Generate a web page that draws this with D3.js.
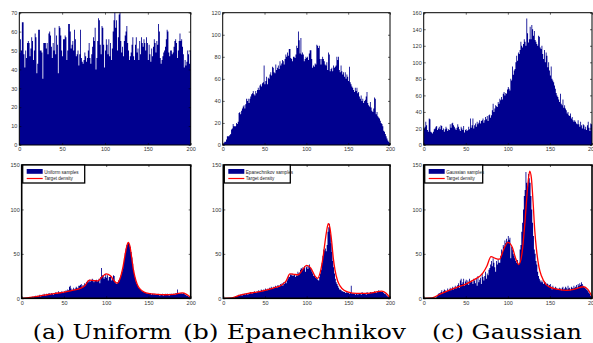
<!DOCTYPE html>
<html>
<head>
<meta charset="utf-8">
<script src="https://cdn.jsdelivr.net/npm/d3@7"></script>
<style>
  body { margin: 0; background: #fff; }
  svg { display: block; }
</style>
</head>
<body>
<div id="chart"></div>
<script>
// ---- data (200 bins per histogram) ----
const xTicks = [0, 50, 100, 150, 200];
const uniformTicks = [0, 10, 20, 30, 40, 50, 60, 70];
const epanTicks = [0, 20, 40, 60, 80, 100, 120];
const gaussTicks = [0, 20, 40, 60, 80, 100, 120, 140, 160];
const sampleTicks = [0, 50, 100, 150];

const captions = ["(a) Uniform", "(b) Epanechnikov", "(c) Gaussian"];
const sampleLabels = ["Uniform samples", "Epanechnikov samples", "Gaussian samples"];
const densityLabel = "Target density";

// top row: proposal histograms
const uniformHist = [
  49, 56, 50, 65, 65, 48, 41, 50, 46, 54, 55, 54, 47, 51, 57, 55, 45, 50, 59, 57,
  38, 43, 61, 61, 50, 50, 49, 35, 54, 54, 54, 51, 54, 48, 59, 60, 58, 52, 46, 54,
  50, 62, 48, 58, 53, 38, 63, 62, 58, 50, 47, 56, 56, 58, 57, 45, 50, 64, 64, 60,
  51, 53, 55, 50, 61, 56, 47, 48, 50, 42, 48, 61, 46, 44, 43, 45, 49, 47, 44, 46,
  50, 54, 46, 43, 48, 52, 57, 55, 62, 40, 46, 55, 67, 66, 53, 48, 63, 62, 53, 41,
  50, 56, 53, 48, 56, 47, 54, 45, 51, 60, 66, 70, 62, 66, 50, 57, 69, 70, 55, 49,
  52, 47, 55, 58, 60, 63, 54, 50, 45, 47, 49, 53, 57, 47, 45, 53, 57, 49, 51, 45,
  55, 48, 57, 54, 52, 56, 54, 50, 57, 54, 45, 53, 48, 44, 51, 47, 52, 56, 54, 49,
  55, 53, 64, 60, 46, 43, 45, 47, 49, 50, 52, 56, 61, 60, 49, 47, 50, 50, 48, 49,
  52, 55, 56, 54, 46, 50, 55, 59, 55, 56, 52, 48, 41, 45, 42, 44, 50, 48, 43, 50
];
const epanHist = [
  1, 2, 3, 3, 5, 8, 8, 8, 9, 10, 14, 15, 19, 17, 17, 17, 20, 19, 21, 29,
  30, 28, 31, 33, 35, 36, 33, 37, 42, 40, 42, 38, 42, 44, 46, 47, 49, 46, 45, 49,
  47, 50, 52, 50, 54, 55, 53, 56, 57, 72, 55, 58, 62, 55, 61, 60, 64, 66, 63, 71,
  70, 66, 65, 73, 68, 70, 72, 69, 76, 72, 74, 77, 76, 73, 78, 82, 80, 84, 81, 87,
  87, 79, 78, 76, 80, 80, 79, 82, 90, 88, 103, 95, 83, 97, 82, 84, 82, 76, 78, 80,
  79, 80, 77, 83, 86, 86, 78, 70, 72, 71, 74, 73, 91, 90, 88, 90, 78, 73, 78, 80,
  78, 76, 73, 72, 75, 68, 84, 82, 67, 69, 70, 67, 72, 70, 71, 72, 80, 77, 80, 68,
  66, 72, 67, 64, 66, 62, 66, 60, 64, 62, 58, 71, 57, 55, 53, 52, 50, 48, 52, 49,
  52, 47, 48, 44, 42, 45, 40, 42, 38, 40, 41, 44, 48, 38, 36, 35, 39, 34, 31, 30,
  33, 43, 42, 28, 30, 26, 25, 24, 22, 20, 19, 17, 13, 12, 10, 8, 6, 4, 3, 2
];
const gaussHist = [
  20, 22, 28, 24, 18, 16, 32, 31, 16, 15, 14, 16, 19, 20, 22, 23, 18, 20, 22, 19,
  24, 23, 18, 20, 16, 19, 22, 20, 17, 19, 18, 25, 21, 26, 27, 24, 22, 20, 18, 21,
  25, 22, 19, 17, 22, 20, 18, 23, 15, 18, 19, 17, 18, 22, 19, 32, 21, 24, 32, 20,
  24, 26, 22, 28, 25, 27, 30, 26, 29, 30, 32, 27, 30, 34, 31, 35, 29, 36, 37, 33,
  36, 42, 50, 40, 44, 48, 47, 46, 52, 50, 56, 54, 58, 55, 62, 64, 60, 63, 62, 67,
  70, 68, 66, 80, 78, 95, 85, 90, 92, 100, 108, 102, 112, 110, 115, 125, 120, 118, 122, 128,
  125, 120, 153, 135, 124, 128, 143, 128, 145, 140, 132, 138, 127, 125, 122, 120, 132, 131, 118, 116,
  120, 110, 104, 115, 100, 112, 108, 94, 100, 90, 84, 95, 80, 78, 76, 72, 68, 63, 60, 58,
  55, 52, 62, 50, 48, 55, 45, 48, 44, 42, 38, 40, 36, 35, 38, 32, 34, 30, 28, 30,
  28, 26, 25, 30, 25, 22, 28, 24, 20, 25, 24, 19, 22, 18, 24, 28, 21, 17, 26, 25
];

// bottom row: weighted samples
const uniformSamples = [
  0, 0, 0, 0, 0, 0, 0, 0, 0, 0, 1, 1, 2, 1, 2, 2, 3, 2, 3, 2,
  3, 4, 2, 3, 4, 3, 5, 4, 3, 5, 4, 5, 6, 4, 5, 6, 5, 4, 6, 5,
  7, 6, 5, 8, 6, 7, 6, 8, 7, 6, 8, 7, 9, 8, 10, 9, 13, 14, 11, 9,
  10, 12, 10, 11, 13, 12, 11, 14, 14, 15, 16, 13, 15, 14, 17, 16, 18, 19, 20, 18,
  21, 19, 20, 22, 21, 18, 20, 20, 21, 19, 20, 22, 17, 24, 34, 26, 25, 22, 24, 27,
  23, 26, 20, 24, 24, 25, 20, 22, 26, 25, 18, 17, 16, 18, 20, 21, 23, 26, 30, 33,
  38, 45, 51, 56, 60, 62, 63, 61, 58, 52, 46, 39, 32, 27, 23, 19, 16, 14, 12, 11,
  10, 9, 8, 8, 7, 7, 6, 6, 5, 6, 5, 5, 6, 4, 5, 5, 4, 5, 4, 4,
  4, 5, 4, 3, 4, 4, 5, 3, 4, 4, 5, 4, 5, 4, 3, 5, 4, 5, 4, 5,
  5, 4, 6, 5, 10, 6, 5, 6, 5, 6, 5, 6, 5, 4, 4, 3, 3, 2, 2, 1
];
const epanSamples = [
  0, 0, 0, 0, 0, 0, 0, 0, 0, 0, 0, 0, 1, 1, 2, 2, 3, 3, 4, 3,
  4, 4, 3, 5, 4, 5, 4, 6, 5, 4, 6, 5, 7, 6, 5, 7, 6, 8, 7, 6,
  8, 7, 9, 8, 7, 10, 9, 8, 10, 9, 11, 10, 9, 11, 10, 12, 11, 13, 12, 11,
  13, 12, 14, 13, 12, 15, 14, 13, 16, 15, 17, 14, 18, 16, 19, 17, 20, 22, 25, 24,
  27, 26, 28, 25, 26, 27, 24, 26, 25, 30, 28, 29, 32, 34, 33, 35, 34, 36, 30, 35,
  37, 33, 36, 38, 34, 32, 30, 28, 25, 26, 23, 24, 22, 21, 20, 24, 28, 32, 40, 48,
  55, 54, 56, 53, 60, 75, 80, 84, 72, 62, 52, 42, 35, 28, 22, 18, 16, 14, 12, 10,
  10, 9, 8, 8, 7, 7, 6, 8, 6, 7, 6, 5, 6, 14, 5, 6, 5, 5, 4, 5,
  5, 4, 5, 6, 5, 4, 7, 5, 6, 5, 6, 4, 7, 6, 5, 6, 7, 6, 7, 6,
  7, 8, 7, 6, 8, 7, 9, 8, 8, 7, 8, 7, 6, 5, 5, 4, 3, 2, 2, 1
];
const gaussSamples = [
  0, 0, 0, 0, 0, 0, 0, 0, 0, 0, 0, 0, 0, 0, 0, 2, 4, 5, 6, 5,
  7, 9, 6, 8, 10, 9, 7, 8, 11, 9, 10, 12, 9, 11, 13, 10, 12, 14, 11, 13,
  15, 17, 12, 20, 22, 16, 18, 22, 14, 19, 21, 17, 20, 15, 22, 18, 20, 19, 16, 22,
  20, 17, 22, 14, 25, 18, 21, 23, 16, 28, 24, 20, 25, 30, 22, 28, 26, 32, 34, 38,
  42, 36, 45, 40, 35, 30, 42, 38, 44, 40, 40, 48, 55, 52, 60, 58, 65, 62, 67, 64,
  70, 66, 68, 45, 58, 55, 50, 48, 45, 42, 40, 43, 38, 40, 55, 60, 75, 85, 100, 115,
  122, 142, 130, 125, 140, 135, 130, 115, 100, 85, 70, 55, 50, 42, 38, 30, 25, 22, 20, 18,
  20, 18, 16, 19, 18, 15, 17, 16, 14, 15, 16, 13, 10, 14, 12, 11, 13, 12, 10, 11,
  10, 12, 11, 9, 12, 13, 10, 11, 13, 12, 10, 14, 11, 12, 9, 13, 12, 11, 14, 12,
  13, 15, 12, 16, 14, 17, 15, 18, 16, 14, 13, 12, 11, 10, 9, 8, 6, 5, 3, 2
];

// target density curves (red), sampled at densityX
const densityX = [0, 10, 20, 30, 40, 50, 60, 70, 75, 80, 85, 90, 95, 100, 105, 110, 113, 117,
  120, 122, 124, 126, 128, 130, 132, 134, 137, 140, 145, 150, 160, 170, 180, 190, 195, 200];
const uniformDensity = [0, 1, 2.5, 4, 5.5, 7, 9, 11.5, 14.5, 20.5, 20, 19.5, 24, 27.5, 25.5, 19, 17, 24,
  36, 47, 57, 63, 59, 47, 33, 24, 15, 10.5, 7, 5.5, 4.5, 4, 4.5, 6, 4.5, 1];
const epanDensity = [0, 0.5, 3.5, 5.5, 7, 9, 11.5, 15, 19, 27.5, 27, 26.5, 32, 37, 34, 25, 22.5, 32,
  48, 63, 76, 84, 79, 64, 45, 32, 20, 14, 9, 7, 5.5, 5.5, 6.5, 8, 6, 0.5];
const gaussDensity = [0, 0.5, 5, 9, 12.5, 16, 21, 28, 36, 47, 45, 44, 55, 63, 58, 43, 38, 52,
  82, 107, 130, 143, 135, 108, 76, 55, 35, 25, 16, 12.5, 10, 9, 10.5, 13, 10, 2];

// ---- drawing ----
let width = 593, height = 343;
let barColor = "#00008f";
let lineColor = "#ff0000";
let tickFont = "'Liberation Sans', Arial, sans-serif";

let svg = d3.select("#chart").append("svg")
  .attr("width", width)
  .attr("height", height)
  .style("background", "#fff");

let panels = [
  { left: 19.3, right: 190.7, top: 12.7, bottom: 145, counts: uniformHist, yMax: 70, yTicks: uniformTicks, frame: 1 },
  { left: 222.7, right: 390, top: 12.7, bottom: 145, counts: epanHist, yMax: 120, yTicks: epanTicks, frame: 1 },
  { left: 423.7, right: 592, top: 12.7, bottom: 145, counts: gaussHist, yMax: 160, yTicks: gaussTicks, frame: 1 },
  { left: 21.7, right: 190.7, top: 165, bottom: 298.3, counts: uniformSamples, yMax: 150, yTicks: sampleTicks, frame: 1.6,
    density: uniformDensity, label: sampleLabels[0], legendW: 62 },
  { left: 223.3, right: 390, top: 165, bottom: 298.3, counts: epanSamples, yMax: 150, yTicks: sampleTicks, frame: 1.6,
    density: epanDensity, label: sampleLabels[1], legendW: 66 },
  { left: 423.7, right: 592, top: 165, bottom: 298.3, counts: gaussSamples, yMax: 150, yTicks: sampleTicks, frame: 1.6,
    density: gaussDensity, label: sampleLabels[2], legendW: 58 }
];

function styleAxis(g) {
  g.attr("font-size", 5.5).attr("font-family", tickFont);
  g.select(".domain").remove();
  g.selectAll("text").attr("fill", "#333");
  g.selectAll("line").attr("stroke", "#000").attr("stroke-width", 0.6);
}

function drawPanel(p) {
  let x = d3.scaleLinear().domain([0, 200]).range([p.left, p.right]);
  let y = d3.scaleLinear().domain([0, p.yMax]).range([p.bottom, p.top]);
  let g = svg.append("g");

  // histogram bars as one stepped shape (bins are thinner than a pixel,
  // separate rects leave light anti-alias seams)
  let steps = p.counts.concat([p.counts[p.counts.length - 1]]);
  let bars = d3.area()
    .x((d, i) => x(i))
    .y0(y(0))
    .y1(d => y(d))
    .curve(d3.curveStepAfter);
  g.append("path")
    .datum(steps)
    .attr("d", bars)
    .attr("fill", barColor);

  // density curve
  if (p.density) {
    let line = d3.line()
      .x((d, i) => x(densityX[i]))
      .y(d => y(d))
      .curve(d3.curveMonotoneX);
    g.append("path")
      .datum(p.density)
      .attr("d", line)
      .attr("fill", "none")
      .attr("stroke", lineColor)
      .attr("stroke-width", 1.3);
  }

  // axes, inward ticks on all four sides (matlab box)
  g.append("g")
    .attr("transform", `translate(0,${p.bottom})`)
    .call(d3.axisBottom(x).tickValues(xTicks).tickSizeInner(-2).tickSizeOuter(0).tickPadding(2.5))
    .call(styleAxis);
  g.append("g")
    .attr("transform", `translate(0,${p.top})`)
    .call(d3.axisTop(x).tickValues(xTicks).tickSizeInner(-2).tickSizeOuter(0).tickFormat(""))
    .call(styleAxis);
  g.append("g")
    .attr("transform", `translate(${p.left},0)`)
    .call(d3.axisLeft(y).tickValues(p.yTicks).tickSizeInner(-2).tickSizeOuter(0).tickPadding(2))
    .call(styleAxis);
  g.append("g")
    .attr("transform", `translate(${p.right},0)`)
    .call(d3.axisRight(y).tickValues(p.yTicks).tickSizeInner(-2).tickSizeOuter(0).tickFormat(""))
    .call(styleAxis);

  g.append("rect")
    .attr("x", p.left)
    .attr("y", p.top)
    .attr("width", p.right - p.left)
    .attr("height", p.bottom - p.top)
    .attr("fill", "none")
    .attr("stroke", "#000")
    .attr("stroke-width", p.frame);

  // legend
  if (p.label) {
    let lx = p.left + 1, ly = p.top, lh = 18;
    let lg = g.append("g").attr("transform", `translate(${lx},${ly})`);
    lg.append("rect")
      .attr("width", p.legendW).attr("height", lh)
      .attr("fill", "#fff").attr("stroke", "#000").attr("stroke-width", 1.3);
    lg.append("rect")
      .attr("x", 4).attr("y", 4).attr("width", 16).attr("height", 4.8)
      .attr("fill", barColor);
    lg.append("line")
      .attr("x1", 4).attr("x2", 20).attr("y1", 13.5).attr("y2", 13.5)
      .attr("stroke", lineColor).attr("stroke-width", 1.2);
    lg.append("text")
      .attr("x", 21.5).attr("y", 8.6)
      .attr("font-size", 4.6).attr("font-family", tickFont).attr("fill", "#222")
      .text(p.label);
    lg.append("text")
      .attr("x", 21.5).attr("y", 15.2)
      .attr("font-size", 4.6).attr("font-family", tickFont).attr("fill", "#222")
      .text(densityLabel);
  }
}

panels.forEach(drawPanel);

// subfigure captions
let captionPos = [
  { x: 32.7, len: 139 },
  { x: 183, len: 223 },
  { x: 432, len: 150 }
];
svg.selectAll("text.caption")
  .data(captions)
  .enter()
  .append("text")
  .attr("class", "caption")
  .attr("x", (d, i) => captionPos[i].x)
  .attr("y", 339)
  .attr("textLength", (d, i) => captionPos[i].len)
  .attr("lengthAdjust", "spacingAndGlyphs")
  .attr("font-family", "'DejaVu Serif', serif")
  .attr("font-size", 21)
  .attr("fill", "#000")
  .text(d => d);
</script>
</body>
</html>
